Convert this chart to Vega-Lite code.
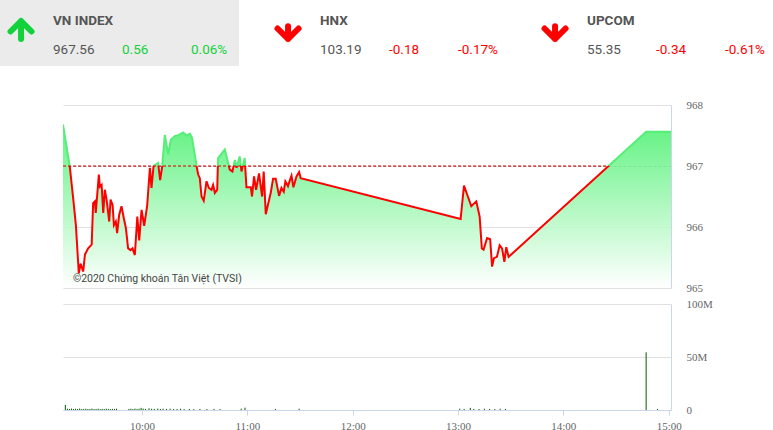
{
  "$schema": "https://vega.github.io/schema/vega-lite/v6.json",
  "padding": 0,
  "background": "#ffffff",
  "spacing": 5,
  "config": {
    "view": {"stroke": null},
    "axis": {"labelFont": "Liberation Sans Narrow", "labelFontSize": 11, "labelColor": "#666666"}
  },
  "datasets": {
    "indices": [
      {"name": "VN INDEX", "value": "967.56", "change": "0.56", "pct": "0.06%", "dir": "up", "active": true},
      {"name": "HNX", "value": "103.19", "change": "-0.18", "pct": "-0.17%", "dir": "down", "active": false},
      {"name": "UPCOM", "value": "55.35", "change": "-0.34", "pct": "-0.61%", "dir": "down", "active": false}
    ],
    "price": [
      {"t": "2020-01-02T09:15:00", "v": 967.68}, {"t": "2020-01-02T09:18:54", "v": 966.98}, {"t": "2020-01-02T09:20:48", "v": 966.47}, {"t": "2020-01-02T09:22:20", "v": 966.03},
      {"t": "2020-01-02T09:24:00", "v": 965.24}, {"t": "2020-01-02T09:25:00", "v": 965.40}, {"t": "2020-01-02T09:26:30", "v": 965.27}, {"t": "2020-01-02T09:27:30", "v": 965.55},
      {"t": "2020-01-02T09:29:20", "v": 965.65}, {"t": "2020-01-02T09:31:20", "v": 965.71}, {"t": "2020-01-02T09:32:10", "v": 966.39}, {"t": "2020-01-02T09:33:10", "v": 966.42},
      {"t": "2020-01-02T09:33:40", "v": 966.23}, {"t": "2020-01-02T09:35:25", "v": 966.86}, {"t": "2020-01-02T09:36:00", "v": 966.66}, {"t": "2020-01-02T09:37:00", "v": 966.69},
      {"t": "2020-01-02T09:37:55", "v": 966.23}, {"t": "2020-01-02T09:38:50", "v": 966.61}, {"t": "2020-01-02T09:39:50", "v": 966.45}, {"t": "2020-01-02T09:41:20", "v": 966.09},
      {"t": "2020-01-02T09:42:05", "v": 966.45}, {"t": "2020-01-02T09:43:15", "v": 966.36}, {"t": "2020-01-02T09:44:00", "v": 966.03}, {"t": "2020-01-02T09:45:05", "v": 966.09},
      {"t": "2020-01-02T09:45:50", "v": 965.90}, {"t": "2020-01-02T09:47:00", "v": 966.20}, {"t": "2020-01-02T09:48:20", "v": 966.34}, {"t": "2020-01-02T09:49:40", "v": 966.14},
      {"t": "2020-01-02T09:50:50", "v": 965.98}, {"t": "2020-01-02T09:52:05", "v": 965.65}, {"t": "2020-01-02T09:53:30", "v": 965.62}, {"t": "2020-01-02T09:54:35", "v": 965.65},
      {"t": "2020-01-02T09:55:55", "v": 965.54}, {"t": "2020-01-02T09:57:20", "v": 966.17}, {"t": "2020-01-02T09:58:25", "v": 965.78}, {"t": "2020-01-02T09:59:45", "v": 966.28},
      {"t": "2020-01-02T10:01:15", "v": 966.02}, {"t": "2020-01-02T10:02:55", "v": 966.34}, {"t": "2020-01-02T10:04:30", "v": 966.97}, {"t": "2020-01-02T10:05:25", "v": 966.64},
      {"t": "2020-01-02T10:06:35", "v": 967.00}, {"t": "2020-01-02T10:09:10", "v": 967.05}, {"t": "2020-01-02T10:10:20", "v": 966.77}, {"t": "2020-01-02T10:11:30", "v": 966.99},
      {"t": "2020-01-02T10:13:00", "v": 967.51}, {"t": "2020-01-02T10:14:55", "v": 967.19}, {"t": "2020-01-02T10:16:25", "v": 967.43}, {"t": "2020-01-02T10:18:40", "v": 967.49},
      {"t": "2020-01-02T10:21:00", "v": 967.51}, {"t": "2020-01-02T10:23:25", "v": 967.55}, {"t": "2020-01-02T10:25:25", "v": 967.50}, {"t": "2020-01-02T10:27:15", "v": 967.53},
      {"t": "2020-01-02T10:28:30", "v": 967.46}, {"t": "2020-01-02T10:31:05", "v": 967.00}, {"t": "2020-01-02T10:32:00", "v": 966.86}, {"t": "2020-01-02T10:32:55", "v": 966.80},
      {"t": "2020-01-02T10:33:55", "v": 966.50}, {"t": "2020-01-02T10:35:10", "v": 966.43}, {"t": "2020-01-02T10:36:45", "v": 966.75}, {"t": "2020-01-02T10:38:05", "v": 966.64},
      {"t": "2020-01-02T10:39:35", "v": 966.61}, {"t": "2020-01-02T10:40:30", "v": 966.69}, {"t": "2020-01-02T10:41:30", "v": 966.56}, {"t": "2020-01-02T10:42:50", "v": 966.61},
      {"t": "2020-01-02T10:43:20", "v": 967.13}, {"t": "2020-01-02T10:47:10", "v": 967.27}, {"t": "2020-01-02T10:50:00", "v": 966.94}, {"t": "2020-01-02T10:51:30", "v": 966.91},
      {"t": "2020-01-02T10:52:55", "v": 967.10}, {"t": "2020-01-02T10:53:50", "v": 966.97}, {"t": "2020-01-02T10:55:40", "v": 967.16}, {"t": "2020-01-02T10:56:40", "v": 966.91},
      {"t": "2020-01-02T10:58:30", "v": 967.13}, {"t": "2020-01-02T10:59:30", "v": 966.65}, {"t": "2020-01-02T11:02:00", "v": 966.65}, {"t": "2020-01-02T11:02:40", "v": 966.50},
      {"t": "2020-01-02T11:03:50", "v": 966.83}, {"t": "2020-01-02T11:05:00", "v": 966.61}, {"t": "2020-01-02T11:06:40", "v": 966.88}, {"t": "2020-01-02T11:08:25", "v": 966.50},
      {"t": "2020-01-02T11:09:20", "v": 966.91}, {"t": "2020-01-02T11:10:30", "v": 966.21}, {"t": "2020-01-02T11:13:20", "v": 966.56}, {"t": "2020-01-02T11:14:40", "v": 966.79},
      {"t": "2020-01-02T11:16:10", "v": 966.79}, {"t": "2020-01-02T11:18:05", "v": 966.51}, {"t": "2020-01-02T11:19:25", "v": 966.64}, {"t": "2020-01-02T11:20:45", "v": 966.58},
      {"t": "2020-01-02T11:21:40", "v": 966.75}, {"t": "2020-01-02T11:23:10", "v": 966.67}, {"t": "2020-01-02T11:24:10", "v": 966.76}, {"t": "2020-01-02T11:25:10", "v": 966.84},
      {"t": "2020-01-02T11:26:15", "v": 966.65}, {"t": "2020-01-02T11:28:00", "v": 966.83}, {"t": "2020-01-02T11:29:30", "v": 966.90}, {"t": "2020-01-02T11:30:25", "v": 966.80},
      {"t": "2020-01-02T13:01:30", "v": 966.13}, {"t": "2020-01-02T13:03:25", "v": 966.68}, {"t": "2020-01-02T13:04:45", "v": 966.57}, {"t": "2020-01-02T13:07:35", "v": 966.34},
      {"t": "2020-01-02T13:10:25", "v": 966.42}, {"t": "2020-01-02T13:12:20", "v": 966.17}, {"t": "2020-01-02T13:13:35", "v": 965.65}, {"t": "2020-01-02T13:14:35", "v": 965.63},
      {"t": "2020-01-02T13:16:35", "v": 965.82}, {"t": "2020-01-02T13:18:20", "v": 965.80}, {"t": "2020-01-02T13:19:25", "v": 965.35}, {"t": "2020-01-02T13:20:30", "v": 965.49},
      {"t": "2020-01-02T13:22:10", "v": 965.51}, {"t": "2020-01-02T13:23:45", "v": 965.70}, {"t": "2020-01-02T13:25:05", "v": 965.65}, {"t": "2020-01-02T13:26:25", "v": 965.43},
      {"t": "2020-01-02T13:27:30", "v": 965.67}, {"t": "2020-01-02T13:28:50", "v": 965.51}, {"t": "2020-01-02T14:47:10", "v": 967.56}, {"t": "2020-01-02T15:01:20", "v": 967.56}
    ],
    "refline": [
      {"start": "2020-01-02T09:15:00", "end": "2020-01-02T14:25:50", "level": 967}
    ],
    "watermark": [
      {"t": "2020-01-02T09:20:38", "v": 965.1, "label": "©2020 Chứng khoán Tân Việt (TVSI)"}
    ],
    "volume": [
      {"t": "2020-01-02T09:16:20", "vol": 4800000}, {"t": "2020-01-02T09:17:30", "vol": 1200000}, {"t": "2020-01-02T09:18:40", "vol": 1000000}, {"t": "2020-01-02T09:19:50", "vol": 1300000},
      {"t": "2020-01-02T09:21:00", "vol": 900000}, {"t": "2020-01-02T09:22:10", "vol": 1200000}, {"t": "2020-01-02T09:23:20", "vol": 1000000}, {"t": "2020-01-02T09:24:30", "vol": 1400000},
      {"t": "2020-01-02T09:25:40", "vol": 900000}, {"t": "2020-01-02T09:26:50", "vol": 1000000}, {"t": "2020-01-02T09:28:00", "vol": 1200000}, {"t": "2020-01-02T09:29:10", "vol": 900000},
      {"t": "2020-01-02T09:30:20", "vol": 1000000}, {"t": "2020-01-02T09:31:30", "vol": 1300000}, {"t": "2020-01-02T09:32:40", "vol": 900000}, {"t": "2020-01-02T09:33:50", "vol": 1000000},
      {"t": "2020-01-02T09:35:00", "vol": 1200000}, {"t": "2020-01-02T09:36:10", "vol": 900000}, {"t": "2020-01-02T09:37:20", "vol": 1000000}, {"t": "2020-01-02T09:38:30", "vol": 900000},
      {"t": "2020-01-02T09:39:40", "vol": 1200000}, {"t": "2020-01-02T09:40:50", "vol": 1000000}, {"t": "2020-01-02T09:42:00", "vol": 900000}, {"t": "2020-01-02T09:43:10", "vol": 1000000},
      {"t": "2020-01-02T09:44:20", "vol": 900000}, {"t": "2020-01-02T09:45:30", "vol": 1200000}, {"t": "2020-01-02T09:52:30", "vol": 1000000}, {"t": "2020-01-02T09:53:40", "vol": 1200000},
      {"t": "2020-01-02T09:54:50", "vol": 900000}, {"t": "2020-01-02T09:56:00", "vol": 1300000}, {"t": "2020-01-02T09:57:10", "vol": 1000000}, {"t": "2020-01-02T09:58:20", "vol": 1200000},
      {"t": "2020-01-02T09:59:30", "vol": 2000000}, {"t": "2020-01-02T10:00:40", "vol": 1300000}, {"t": "2020-01-02T10:02:00", "vol": 1000000}, {"t": "2020-01-02T10:04:00", "vol": 1600000},
      {"t": "2020-01-02T10:05:30", "vol": 1200000}, {"t": "2020-01-02T10:07:00", "vol": 1000000}, {"t": "2020-01-02T10:09:00", "vol": 1300000}, {"t": "2020-01-02T10:10:30", "vol": 900000},
      {"t": "2020-01-02T10:12:00", "vol": 1200000}, {"t": "2020-01-02T10:14:00", "vol": 1000000}, {"t": "2020-01-02T10:16:00", "vol": 1200000}, {"t": "2020-01-02T10:18:00", "vol": 900000},
      {"t": "2020-01-02T10:20:00", "vol": 1000000}, {"t": "2020-01-02T10:22:00", "vol": 1200000}, {"t": "2020-01-02T10:24:00", "vol": 900000}, {"t": "2020-01-02T10:27:00", "vol": 1000000},
      {"t": "2020-01-02T10:29:30", "vol": 900000}, {"t": "2020-01-02T10:33:00", "vol": 1000000}, {"t": "2020-01-02T10:37:00", "vol": 900000}, {"t": "2020-01-02T10:41:00", "vol": 1000000},
      {"t": "2020-01-02T10:44:30", "vol": 900000}, {"t": "2020-01-02T10:56:30", "vol": 1200000}, {"t": "2020-01-02T10:58:40", "vol": 2200000}, {"t": "2020-01-02T11:16:00", "vol": 1000000},
      {"t": "2020-01-02T11:29:30", "vol": 1200000}, {"t": "2020-01-02T13:01:00", "vol": 1200000}, {"t": "2020-01-02T13:03:30", "vol": 1000000}, {"t": "2020-01-02T13:07:00", "vol": 2000000},
      {"t": "2020-01-02T13:09:00", "vol": 1000000}, {"t": "2020-01-02T13:12:00", "vol": 900000}, {"t": "2020-01-02T13:15:00", "vol": 1200000}, {"t": "2020-01-02T13:18:00", "vol": 1000000},
      {"t": "2020-01-02T13:21:00", "vol": 900000}, {"t": "2020-01-02T13:24:00", "vol": 1200000}, {"t": "2020-01-02T13:27:00", "vol": 1000000}, {"t": "2020-01-02T14:47:10", "vol": 54400000},
      {"t": "2020-01-02T14:53:40", "vol": 900000}
    ]
  },
  "vconcat": [
    {
      "width": 710,
      "height": 66,
      "data": {"name": "indices"},
      "encoding": {
        "x": {
          "field": "name", "type": "nominal",
          "scale": {"domain": ["VN INDEX", "HNX", "UPCOM"], "range": [-63, 710], "paddingInner": 0.105, "paddingOuter": 0},
          "axis": {"labels": false, "ticks": false, "domain": false, "grid": false, "title": null, "minExtent": 28, "maxExtent": 28}
        }
      },
      "layer": [
        {
          "transform": [{"filter": "datum.active"}],
          "mark": {"type": "rect", "color": "#ebebeb"}
        },
        {
          "mark": {"type": "point", "filled": false, "strokeWidth": 6, "strokeCap": "round", "strokeJoin": "round", "size": 900, "opacity": 1},
          "encoding": {
            "x": {"field": "name", "type": "nominal", "bandPosition": 0.088},
            "shape": {"field": "dir", "type": "nominal", "scale": {"domain": ["up", "down"], "range": ["M0,0.4L0,-0.8M-0.7,-0.1L0,-0.8L0.7,-0.1", "M0,-0.45L0,0.4M-0.7,-0.3L0,0.4L0.7,-0.3"]}, "legend": null},
            "color": {"field": "dir", "type": "nominal", "scale": {"domain": ["up", "down"], "range": ["#12d23c", "#ff0000"]}, "legend": null}
          }
        },
        {
          "mark": {"type": "text", "align": "left", "baseline": "alphabetic", "dx": 53, "dy": -8, "font": "Roboto", "fontWeight": "bold", "fontSize": 13.5, "color": "#555555"},
          "encoding": {"x": {"field": "name", "type": "nominal", "bandPosition": 0}, "text": {"field": "name"}}
        },
        {
          "mark": {"type": "text", "align": "left", "baseline": "alphabetic", "dx": 53, "dy": 21, "font": "Roboto", "fontSize": 13.5, "color": "#555555"},
          "encoding": {"x": {"field": "name", "type": "nominal", "bandPosition": 0}, "text": {"field": "value"}}
        },
        {
          "mark": {"type": "text", "align": "left", "baseline": "alphabetic", "dx": 122, "dy": 21, "font": "Roboto", "fontSize": 13.5},
          "encoding": {
            "x": {"field": "name", "type": "nominal", "bandPosition": 0},
            "text": {"field": "change"},
            "color": {"field": "dir", "type": "nominal", "scale": {"domain": ["up", "down"], "range": ["#12d23c", "#ff0000"]}, "legend": null}
          }
        },
        {
          "mark": {"type": "text", "align": "left", "baseline": "alphabetic", "dx": 191, "dy": 21, "font": "Roboto", "fontSize": 13.5},
          "encoding": {
            "x": {"field": "name", "type": "nominal", "bandPosition": 0},
            "text": {"field": "pct"},
            "color": {"field": "dir", "type": "nominal", "scale": {"domain": ["up", "down"], "range": ["#12d23c", "#ff0000"]}, "legend": null}
          }
        }
      ]
    },
    {
      "bounds": "flush",
      "spacing": 0,
      "data": {"name": "price"},
      "vconcat": [
        {
          "width": 608,
          "height": 61,
          "encoding": {
            "x": {"field": "t", "type": "temporal", "scale": {"domain": [{"year": 2020, "month": 1, "date": 2, "hours": 9, "minutes": 15}, {"year": 2020, "month": 1, "date": 2, "hours": 15, "minutes": 1, "seconds": 20}], "nice": false}, "axis": null}
          },
          "layer": [
            {
              "mark": {"type": "area", "clip": true, "fillOpacity": 0.85, "fill": {"gradient": "linear", "x1": 0, "y1": 0, "x2": 0, "y2": 1, "stops": [{"offset": 0, "color": "#46f06c"}, {"offset": 1, "color": "#ffffff"}]}},
              "encoding": {
                "y": {"field": "v", "type": "quantitative", "scale": {"domain": [967, 968], "zero": false, "nice": false}, "axis": {"orient": "left", "labels": false, "ticks": false, "domain": false, "grid": false, "title": null, "minExtent": 63, "maxExtent": 63}},
                "y2": {"datum": 965}
              }
            },
            {
              "mark": {"type": "line", "clip": true, "stroke": "#55ee77", "strokeWidth": 2},
              "encoding": {
                "y": {"field": "v", "type": "quantitative", "axis": {"orient": "right", "values": [968], "format": ".0f", "grid": true, "gridColor": "#e0e0e0", "ticks": false, "domain": true, "domainColor": "#ccd6eb", "labelPadding": 15, "title": null}}
              }
            }
          ],
          "resolve": {"axis": {"y": "independent"}}
        },
        {
          "width": 608,
          "height": 122,
          "encoding": {
            "x": {"field": "t", "type": "temporal", "scale": {"domain": [{"year": 2020, "month": 1, "date": 2, "hours": 9, "minutes": 15}, {"year": 2020, "month": 1, "date": 2, "hours": 15, "minutes": 1, "seconds": 20}], "nice": false}, "axis": null}
          },
          "layer": [
            {
              "mark": {"type": "area", "clip": true, "fillOpacity": 0.85, "fill": {"gradient": "linear", "x1": 0, "y1": 0, "x2": 0, "y2": 1, "stops": [{"offset": 0, "color": "#46f06c"}, {"offset": 1, "color": "#ffffff"}]}},
              "encoding": {
                "y": {"field": "v", "type": "quantitative", "scale": {"domain": [965, 967], "zero": false, "nice": false}, "axis": {"orient": "left", "labels": false, "ticks": false, "domain": false, "grid": false, "title": null, "minExtent": 63, "maxExtent": 63}},
                "y2": {"datum": 965}
              }
            },
            {
              "mark": {"type": "line", "clip": true, "stroke": "#ff0000", "strokeWidth": 2},
              "encoding": {
                "y": {"field": "v", "type": "quantitative", "axis": {
                  "orient": "right", "values": [965, 966, 967], "format": ".0f", "grid": true,
                  "gridColor": {"condition": {"test": "datum.value === 967", "value": "#9a9a9a"}, "value": "#e0e0e0"},
                  "gridDash": {"condition": {"test": "datum.value === 967", "value": [3, 2]}, "value": []},
                  "ticks": false, "domain": true, "domainColor": "#ccd6eb", "labelPadding": 15, "title": null}}
              }
            },
            {
              "data": {"name": "refline"},
              "mark": {"type": "rule", "color": "#e00000", "strokeDash": [3, 2], "strokeWidth": 1},
              "encoding": {
                "x": {"field": "start", "type": "temporal", "axis": null},
                "x2": {"field": "end"},
                "y": {"field": "level", "type": "quantitative", "axis": null}
              }
            },
            {
              "data": {"name": "watermark"},
              "mark": {"type": "text", "align": "left", "baseline": "alphabetic", "font": "Roboto", "fontSize": 10.5, "color": "#444444"},
              "encoding": {
                "x": {"field": "t", "type": "temporal", "axis": null},
                "y": {"field": "v", "type": "quantitative", "axis": null},
                "text": {"field": "label"}
              }
            }
          ],
          "resolve": {"axis": {"y": "independent"}}
        }
      ]
    },
    {
      "width": 608,
      "height": 106,
      "data": {"name": "volume"},
      "encoding": {
        "x": {
          "field": "t", "type": "temporal",
          "scale": {"domain": [{"year": 2020, "month": 1, "date": 2, "hours": 9, "minutes": 15}, {"year": 2020, "month": 1, "date": 2, "hours": 15, "minutes": 1, "seconds": 20}], "nice": false},
          "axis": {
            "values": [
              {"year": 2020, "month": 1, "date": 2, "hours": 10}, {"year": 2020, "month": 1, "date": 2, "hours": 11},
              {"year": 2020, "month": 1, "date": 2, "hours": 12}, {"year": 2020, "month": 1, "date": 2, "hours": 13},
              {"year": 2020, "month": 1, "date": 2, "hours": 14}, {"year": 2020, "month": 1, "date": 2, "hours": 15}
            ],
            "format": "%H:%M", "grid": false, "domainColor": "#ccd6eb", "tickColor": "#ccd6eb", "tickSize": 5, "labelPadding": 5, "labelFlush": false, "title": null
          }
        }
      },
      "layer": [
        {
          "mark": {"type": "rule", "color": "#005a00", "strokeWidth": 1},
          "encoding": {
            "y": {"field": "vol", "type": "quantitative", "scale": {"domain": [0, 100000000], "nice": false}, "axis": {
              "orient": "right", "values": [0, 50000000, 100000000],
              "labelExpr": "datum.value === 0 ? '0' : (datum.value / 1000000) + 'M'",
              "grid": true, "gridColor": "#e0e0e0", "ticks": false, "domain": true, "domainColor": "#ccd6eb", "labelPadding": 15, "title": null}},
            "y2": {"datum": 0}
          }
        },
        {
          "mark": {"type": "rule", "opacity": 0},
          "encoding": {
            "y": {"field": "vol", "type": "quantitative", "axis": {"orient": "left", "labels": false, "ticks": false, "domain": false, "grid": false, "title": null, "minExtent": 63, "maxExtent": 63}},
            "y2": {"datum": 0}
          }
        }
      ],
      "resolve": {"axis": {"y": "independent"}}
    }
  ]
}
